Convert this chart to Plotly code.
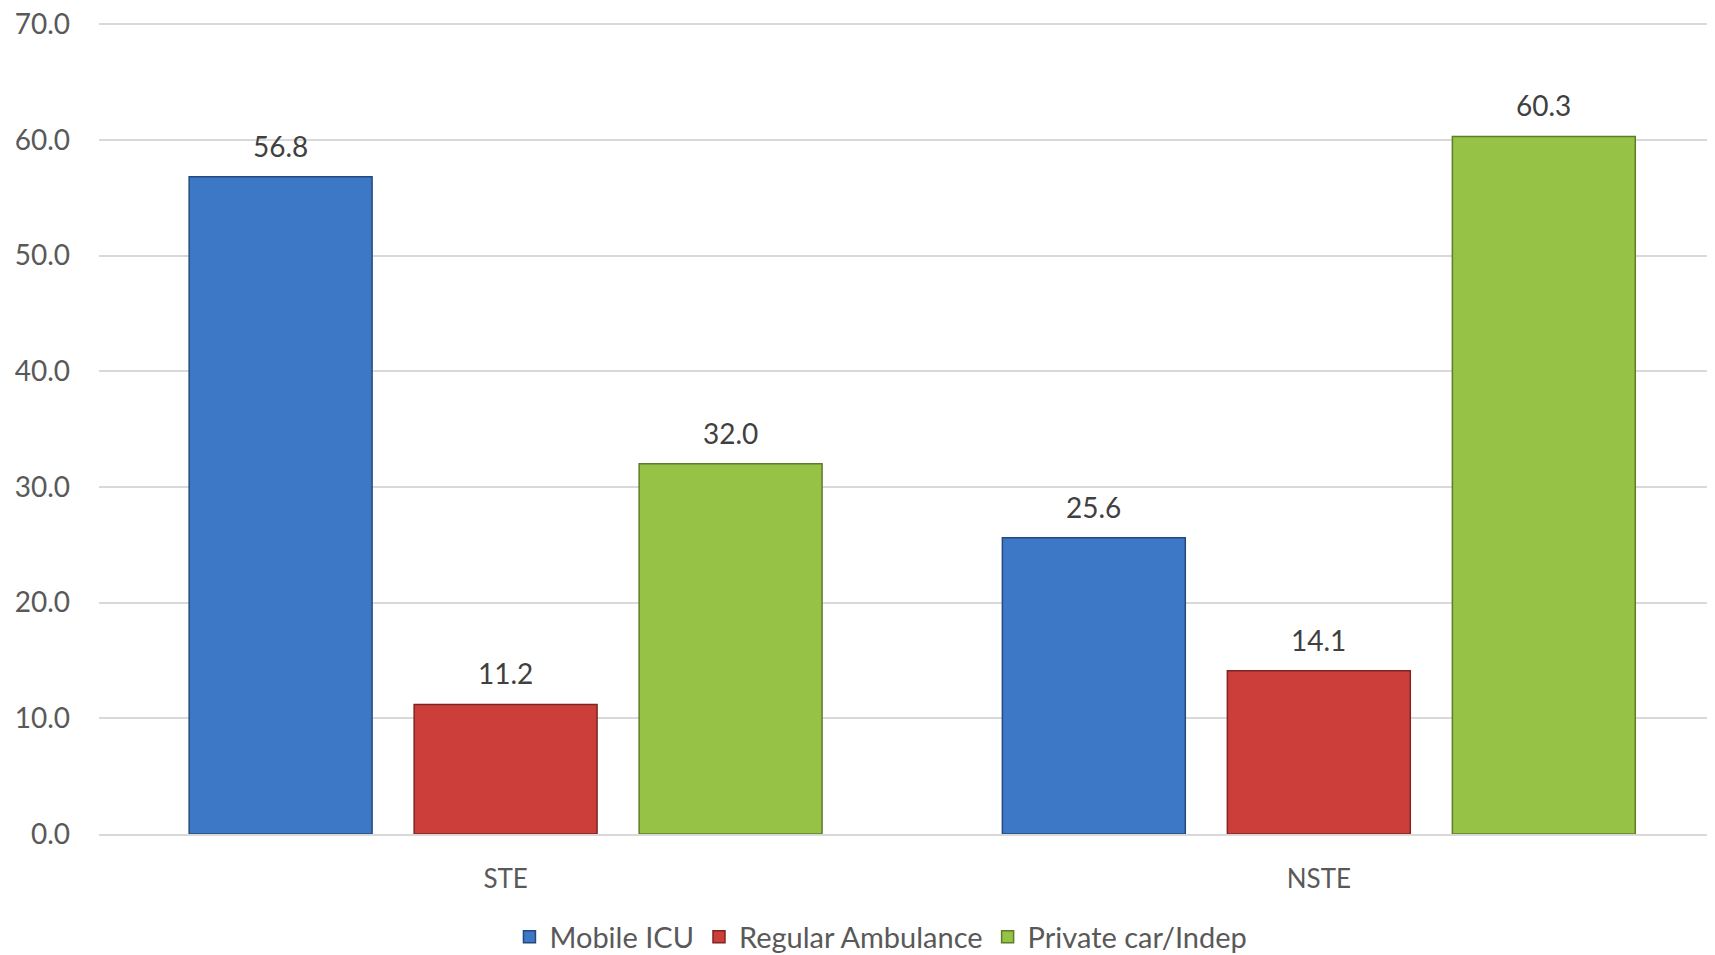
import plotly.graph_objects as go

# data
categories = ['STE', 'NSTE']
mobile_icu = [56.8, 25.6]
regular_ambulance = [11.2, 14.1]
private_car = [32.0, 60.3]
y_ticks = [0, 10, 20, 30, 40, 50, 60, 70]

series = [
    ('Mobile ICU', mobile_icu, '#3D78C6', '#25497C'),
    ('Regular Ambulance', regular_ambulance, '#CC3E3A', '#7E2523'),
    ('Private car/Indep', private_car, '#96C246', '#5E7D2A'),
]

fnt = 'Lato, Calibri, sans-serif'
bargap = 0.17
slot = (1 - bargap) / len(series)

fig = go.Figure()
for k, (name, vals, col, edge) in enumerate(series):
    fig.add_trace(go.Bar(
        x=categories, y=vals, name=name,
        marker=dict(color=col, line=dict(color=edge, width=1.5)),
    ))
    # value labels sit a bit higher above the bars than plotly's outside text
    for i, v in enumerate(vals):
        fig.add_annotation(x=i + (k - 1) * slot, y=v, text=f'{v:.1f}',
                           xref='x', yref='y', showarrow=False,
                           yanchor='bottom', yshift=12,
                           font=dict(family=fnt, size=28, color='#404040'))

# page body has an 8px margin, so the plot area is shifted up/left by that much
fig.update_layout(
    width=1715, height=955,
    margin=dict(l=91, r=0, t=15, b=127),
    plot_bgcolor='white', paper_bgcolor='white',
    barmode='group', bargap=bargap, bargroupgap=0.187,
    font=dict(family=fnt, size=28, color='#595959'),
    legend=dict(orientation='h', x=0.4815, xanchor='center', y=-0.127, yanchor='middle',
                font=dict(family=fnt, size=29, color='#595959'),
                itemwidth=30, traceorder='normal'),
    showlegend=True,
)
fig.update_xaxes(range=[-0.5, 1.497], showgrid=False, automargin=False,
                 showline=True, linecolor='#D9D9D9', linewidth=2,
                 ticks='', ticklabelstandoff=21,
                 tickfont=dict(family=fnt, size=26, color='#595959'))
fig.update_yaxes(range=[0, 70.1], tickvals=y_ticks, tickformat='.1f', automargin=False,
                 showgrid=True, gridcolor='#D9D9D9', gridwidth=1.5,
                 zeroline=False, showline=False, ticks='',
                 ticklabelstandoff=28, ticklabeloverflow='allow',
                 tickfont=dict(family=fnt, size=28, color='#595959'))

fig.write_html('out.html')
